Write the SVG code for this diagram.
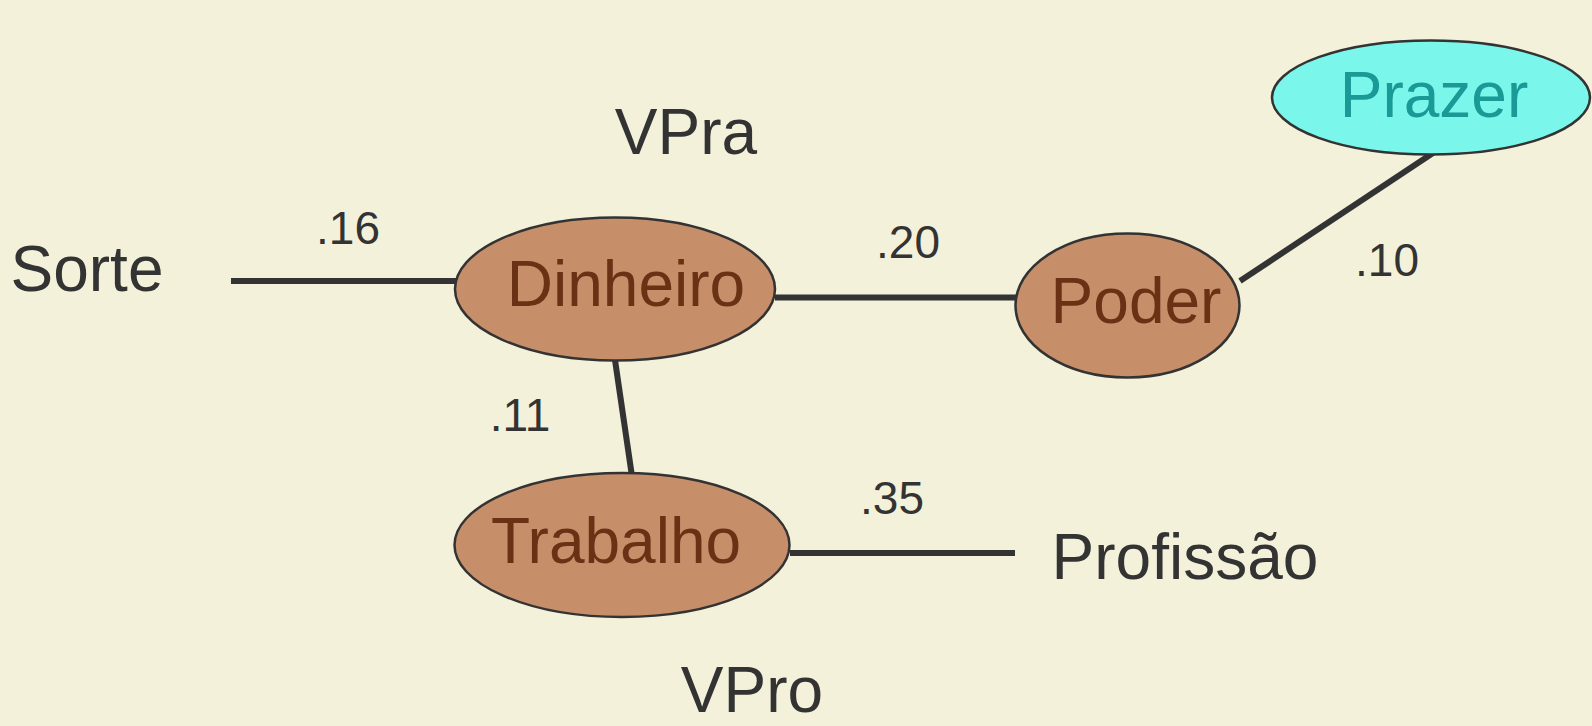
<svg xmlns="http://www.w3.org/2000/svg" width="1592" height="726" viewBox="0 0 1592 726">
<style>
.bg{fill:#f3f1d9}
.n{fill:#c68f6a;stroke:#333;stroke-width:2.5}
.p{fill:#7af7ea;stroke:#333;stroke-width:2.5}
.e{stroke:#333;stroke-width:6;fill:none}
text{font-family:"Liberation Sans",Arial,sans-serif;text-anchor:middle}
.big{font-size:64px;fill:#333}
.nt{font-size:64px;fill:#6a3215}
.pt{font-size:64px;fill:#1a9a96}
.num{font-size:46px;fill:#333}
</style>
<rect class="bg" x="0" y="0" width="1592" height="726"/>
<g id="connectors">
<line class="e" x1="231" y1="281" x2="457" y2="281"/>
<line class="e" x1="775" y1="297.5" x2="1016" y2="297.5"/>
<line class="e" x1="1240" y1="281" x2="1433" y2="153"/>
<line class="e" x1="615" y1="360" x2="631.5" y2="473"/>
<line class="e" x1="790" y1="553" x2="1015" y2="553"/>
</g>
<g id="labels">
<text class="num" x="348" y="244">.16</text>
<text class="num" x="908" y="258">.20</text>
<text class="num" x="1387" y="276">.10</text>
<text class="num" x="520" y="431">.11</text>
<text class="num" x="892" y="514">.35</text>
<text class="big" x="686" y="154">VPra</text>
<text class="big" x="752" y="712">VPro</text>
</g>
<g id="sorte"><text class="big" x="87" y="291">Sorte</text></g>
<g id="profissao"><text class="big" x="1185" y="579">Profissão</text></g>
<g id="prazer"><ellipse class="p" cx="1431" cy="97.5" rx="159" ry="57"/><text class="pt" x="1434" y="117">Prazer</text></g>
<g id="dinheiro"><ellipse class="n" cx="615" cy="289" rx="160" ry="71.5"/><text class="nt" x="626" y="306">Dinheiro</text></g>
<g id="poder"><ellipse class="n" cx="1127.5" cy="305.5" rx="112" ry="72"/><text class="nt" x="1136" y="323">Poder</text></g>
<g id="trabalho"><ellipse class="n" cx="622" cy="545" rx="167.5" ry="72"/><text class="nt" x="616" y="563">Trabalho</text></g>
</svg>
